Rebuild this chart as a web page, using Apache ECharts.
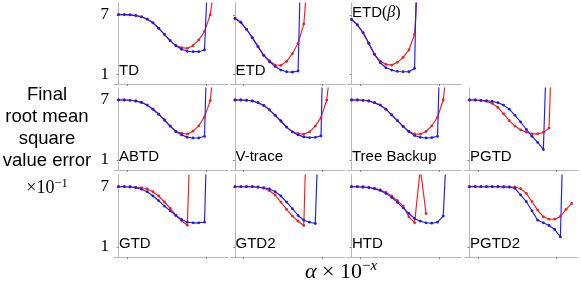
<!DOCTYPE html>
<html><head><meta charset="utf-8">
<script src="https://cdn.jsdelivr.net/npm/echarts@6/dist/echarts.min.js"></script>
<style>html,body{margin:0;padding:0;background:#fff}#c{width:581px;height:288px}</style>
</head><body><div id="c"></div>
<script>
// ---- data (final RMS value error ×10^-1, blue & red series per method) ----
const tdBlue    = [7.03,7.03,7.0,6.93,6.8,6.56,6.19,5.64,5.03,4.39,3.88,3.51,3.31,3.27,3.27,3.44,17];
const tdRed     = [7.03,7.03,7.0,6.93,6.8,6.56,6.19,5.64,5.03,4.39,3.88,3.68,3.61,3.88,4.46,5.31,7.0,11];
const etdBlue   = [6.63,6.25,5.54,4.69,3.78,2.9,2.25,1.78,1.41,1.24,1.2,1.31,25];
const etdRed    = [6.63,6.25,5.54,4.69,3.78,2.9,2.36,1.92,1.88,2.29,3.07,4.12,6.08,13.4];
const etdbBlue  = [6.53,5.98,5.2,4.12,3.0,2.15,1.64,1.41,1.27,1.24,1.24,1.58,30];
const etdbRed   = [6.53,5.98,5.2,4.12,3.0,2.32,1.98,1.92,2.19,2.69,3.44,5.03,14];
const abtdBlue  = [7.0,7.0,6.97,6.9,6.76,6.49,6.08,5.58,5.0,4.39,3.85,3.51,3.27,3.2,3.2,3.37,24];
const abtdRed   = [7.0,7.0,6.97,6.9,6.76,6.49,6.08,5.58,5.0,4.39,3.85,3.68,3.58,3.88,4.42,5.31,6.93,12.3];
const vtrBlue   = [7.0,7.0,6.97,6.9,6.73,6.46,6.02,5.47,4.9,4.29,3.81,3.51,3.31,3.24,3.27,3.41,30];
const vtrRed    = [7.0,7.0,6.97,6.9,6.73,6.46,6.02,5.47,4.9,4.29,3.81,3.64,3.58,3.81,4.39,5.24,7.0,12];
const tbBlue    = [7.0,7.0,6.97,6.9,6.73,6.49,6.08,5.51,4.93,4.36,3.85,3.44,3.27,3.2,3.24,3.37,24];
const tbRed     = [7.0,7.0,6.97,6.9,6.73,6.49,6.08,5.51,4.93,4.36,3.85,3.61,3.58,3.85,4.42,5.27,7.0,12];
const pgtdBlue  = [7.0,7.0,6.97,6.93,6.86,6.73,6.49,6.08,5.47,4.8,4.05,3.37,2.76,2.05,19.5];
const pgtdRed   = [7.0,7.0,6.93,6.86,6.66,6.25,5.61,4.93,4.39,4.02,3.78,3.61,3.61,3.75,4.19,21];
const gtdBlue   = [7.03,7.03,7.0,6.93,6.77,6.53,6.1,5.63,5.09,4.62,4.15,3.75,3.48,3.42,3.42,3.48,23.6];
const gtdRed    = [7.03,7.03,7.03,6.97,6.93,6.8,6.53,6.1,5.5,4.86,4.19,3.62,3.18,20.5];
const gtd2Blue  = [7.03,7.03,7.03,7.03,7.0,6.93,6.8,6.53,6.1,5.49,4.83,4.15,3.68,3.48,3.35,20];
const gtd2Red   = [7.03,7.03,7.03,7.03,6.97,6.87,6.63,6.2,5.49,4.76,4.09,3.58,3.15,24.6];
const htdBlue   = [7.03,7.03,7.0,6.93,6.83,6.66,6.36,5.96,5.46,4.92,4.35,3.85,3.58,3.42,3.38,3.48,4.09,15.8];
const htdRed    = [7.03,7.03,7.0,6.97,6.87,6.7,6.46,6.1,5.63,5.09,4.02,3.42,8.85,4.35];
const pgtd2Blue = [7.03,7.03,7.03,7.03,7.03,7.03,7.0,6.97,6.87,6.2,5.53,4.62,3.68,3.42,3.15,2.75,2.01,23.4];
const pgtd2Red  = [7.03,7.03,7.03,7.03,7.03,7.03,7.03,7.03,7.0,6.83,6.36,5.53,4.69,4.02,3.78,3.78,4.05,4.76,5.36];

const panelNames = ['TD','ETD','ETD(β)','ABTD','V-trace','Tree Backup','PGTD','GTD','GTD2','HTD','PGTD2'];
const panelBlue  = [tdBlue,etdBlue,etdbBlue,abtdBlue,vtrBlue,tbBlue,pgtdBlue,gtdBlue,gtd2Blue,htdBlue,pgtd2Blue];
const panelRed   = [tdRed,etdRed,etdbRed,abtdRed,vtrRed,tbRed,pgtdRed,gtdRed,gtd2Red,htdRed,pgtd2Red];
const panelCell  = [[0,0],[0,1],[0,2],[1,0],[1,1],[1,2],[1,3],[2,0],[2,1],[2,2],[2,3]];
const yTickValues = [1, 7];
const xTickValues = [1.46, 15.3];
const yLabelLines = ['Final','root mean','square','value error'];

// ---- layout ----
const colLeft = [114, 230.5, 347, 465];
const colWidth = [114, 114, 114, 113];
const rowTop = [3, 88, 175];
const rowHeight = [81, 82, 82];
const SANS = '"Liberation Sans", Arial, Helvetica, sans-serif';
const SERIF = '"Liberation Serif", "DejaVu Serif", serif';
const axisCol = '#b8b8b8';

const grids = [], xAxes = [], yAxes = [], series = [], graphics = [];
panelNames.forEach((name, i) => {
  const [r, c] = panelCell[i];
  grids.push({left: colLeft[c], top: rowTop[r], width: colWidth[c], height: rowHeight[r]});
  xAxes.push({gridIndex: i, type: 'value', min: -0.8, max: 19.1,
    axisLine: {show: true, lineStyle: {color: axisCol, width: 1}},
    axisTick: {show: true, customValues: xTickValues, length: 2, lineStyle: {color: '#888'}},
    axisLabel: {show: false}, splitLine: {show: false}});
  yAxes.push({gridIndex: i, type: 'value', min: 0, max: 8.2,
    axisLine: {show: true, lineStyle: {color: axisCol, width: 1}},
    axisTick: {show: true, customValues: yTickValues, length: 2, lineStyle: {color: '#888'}},
    axisLabel: {show: c === 0, customValues: yTickValues, margin: 5,
      fontFamily: SERIF, fontSize: 17, color: '#000'},
    splitLine: {show: false}});
  const mk = (arr, color) => ({
    type: 'line', xAxisIndex: i, yAxisIndex: i, clip: true,
    data: arr.map((v, k) => [k, v]),
    symbol: 'circle', symbolSize: 2.8, showSymbol: true,
    itemStyle: {color: color}, lineStyle: {color: color, width: 1.15},
    emphasis: {disabled: true}, silent: true
  });
  series.push(mk(panelRed[i], '#ff1a1a'));
  series.push(mk(panelBlue[i], '#1a1aff'));
  const L = colLeft[c] + 5;
  if (name === 'ETD(β)') {
    graphics.push({type: 'text', x: L, y: rowTop[r] + 1, style: {
      text: '{a|ETD}{b|(}{c|β}{b|)}', textVerticalAlign: 'top', rich: {
        a: {fontFamily: SANS, fontSize: 15, fill: '#000', lineHeight: 18},
        b: {fontFamily: SERIF, fontSize: 16, fill: '#000', lineHeight: 18},
        c: {fontFamily: SERIF, fontSize: 16, fontStyle: 'italic', fill: '#000', lineHeight: 18}}}});
  } else {
    graphics.push({type: 'text', x: L, y: rowTop[r] + rowHeight[r] - 5.5, style: {
      text: name, font: '15px ' + SANS, fill: '#000', textVerticalAlign: 'bottom'}});
  }
});

const ly = [95, 117, 138.5, 161];
yLabelLines.forEach((t, k) => graphics.push({type: 'text', x: 47, y: ly[k], style: {
  text: t, font: '18.5px ' + SANS, fill: '#000', textAlign: 'center', textVerticalAlign: 'middle'}}));
graphics.push({type: 'text', x: 47, y: 188, style: {
  text: '{m|×10}{s|−1}', textAlign: 'center', textVerticalAlign: 'middle', rich: {
    m: {fontFamily: SERIF, fontSize: 18, fill: '#000', lineHeight: 21},
    s: {fontFamily: SERIF, fontSize: 12.5, fill: '#000', verticalAlign: 'top'}}}});
graphics.push({type: 'text', x: 341, y: 272, style: {
  text: '{i|α}{m| × 10}{s|−}{si|x}', textAlign: 'center', textVerticalAlign: 'middle', rich: {
    i: {fontFamily: SERIF, fontSize: 22, fontStyle: 'italic', fill: '#000', lineHeight: 26},
    m: {fontFamily: SERIF, fontSize: 22, fill: '#000', lineHeight: 26},
    s: {fontFamily: SERIF, fontSize: 15, fill: '#000', verticalAlign: 'top'},
    si: {fontFamily: SERIF, fontSize: 15, fontStyle: 'italic', fill: '#000', verticalAlign: 'top'}}}});

const chart = echarts.init(document.getElementById('c'), null, {renderer: 'canvas'});
chart.setOption({animation: false, grid: grids, xAxis: xAxes, yAxis: yAxes, series: series, graphic: graphics});
</script></body></html>
